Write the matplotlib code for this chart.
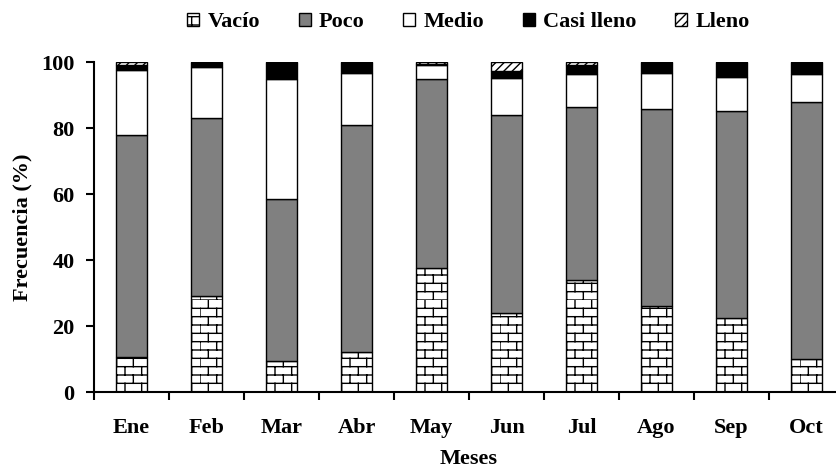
import warnings
import numpy as np
import matplotlib
matplotlib.use("Agg")
import matplotlib.pyplot as plt
import matplotlib.hatch as mhatch
from matplotlib.path import Path

months = ["Ene", "Feb", "Mar", "Abr", "May", "Jun", "Jul", "Ago", "Sep", "Oct"]
vacio = [10.5, 29.0, 9.3, 12.0, 37.5, 24.0, 34.0, 26.0, 22.4, 10.0]
poco = [67.5, 54.0, 49.2, 69.0, 57.5, 60.0, 52.3, 59.8, 62.8, 78.0]
medio = [19.5, 15.5, 36.5, 15.7, 4.0, 11.3, 10.0, 10.9, 10.2, 8.4]
casi_lleno = [1.5, 1.5, 5.0, 3.3, 0.5, 2.1, 2.7, 3.3, 4.6, 3.6]
lleno = [1.0, 0.0, 0.0, 0.0, 0.5, 2.6, 1.0, 0.0, 0.0, 0.0]

series_names = ["Vac\u00edo", "Poco", "Medio", "Casi lleno", "Lleno"]
yticks = [0, 20, 40, 60, 80, 100]


class BrickHatch(mhatch.HatchPatternBase):
    """Brick wall pattern, selected with the 'b' character."""

    def __init__(self, hatch, density):
        self.n = hatch.count("b")
        self.rows = 12 * self.n
        self.cols = 6 * self.n
        # one horizontal line per row + cols vertical segments per row
        self.num_vertices = (self.rows + self.rows * self.cols) * 2 if self.n else 0

    def set_vertices_and_codes(self, vertices, codes):
        segs = []
        h = 1.0 / self.rows
        w = 1.0 / self.cols
        for i in range(self.rows):
            y0 = i * h
            segs.append(((0.0, y0), (1.0, y0)))
            off = 0.5 * w if i % 2 else 0.0
            for j in range(self.cols):
                xv = j * w + off
                segs.append(((xv, y0), (xv, y0 + h)))
        vertices[:] = np.array([p for s in segs for p in s])
        codes[0::2] = Path.MOVETO
        codes[1::2] = Path.LINETO


mhatch._hatch_types.append(BrickHatch)
warnings.filterwarnings("ignore")

plt.rcParams["font.family"] = "Liberation Serif"
plt.rcParams["font.weight"] = "bold"
plt.rcParams["hatch.linewidth"] = 1.0
FS = 16

fig = plt.figure(figsize=(8.37, 4.71), dpi=100)
# the category axis runs a little past the right edge of the figure
ax = fig.add_axes([94 / 837, 79 / 471, 750 / 837, 330 / 471])

x = np.arange(len(months))
width = 0.41
styles = [
    dict(color="white", hatch="b"),
    dict(color="#808080", hatch=None),
    dict(color="white", hatch=None),
    dict(color="black", hatch=None),
    dict(color="white", hatch="////"),
]
bottom = np.zeros(len(months))
for name, vals, st in zip(series_names, [vacio, poco, medio, casi_lleno, lleno], styles):
    vals = np.array(vals)
    ax.bar(x, vals, width, bottom=bottom, color=st["color"], hatch=st["hatch"],
           edgecolor="black", linewidth=1.0, label=name)
    bottom += vals

ax.set_xlim(-0.5, len(months) - 0.5)
ax.set_ylim(0, 100)
ax.set_yticks(yticks)
ax.set_xticks(x)
ax.set_xticklabels(months, fontsize=FS, fontweight="bold")
ax.set_xticks(np.arange(-0.5, len(months), 1.0), minor=True)
ax.tick_params(axis="x", which="major", length=0, pad=19)
ax.tick_params(axis="x", which="minor", length=6, width=1.5, direction="out")
ax.tick_params(axis="y", length=6, width=1.5, labelsize=FS, pad=8)
for lab in ax.get_yticklabels():
    lab.set_fontweight("bold")

for side in ["top", "right"]:
    ax.spines[side].set_visible(False)
for side in ["left", "bottom"]:
    ax.spines[side].set_linewidth(1.5)

ax.set_xlabel("Meses", fontsize=FS, fontweight="bold", labelpad=8)
ax.set_ylabel("Frecuencia (%)", fontsize=FS, fontweight="bold", labelpad=6)

fig.legend(loc="center", bbox_to_anchor=(468.5 / 837, 1 - 22 / 471), ncol=5, frameon=False,
           handlelength=0.54, handleheight=0.54, handletextpad=0.36, columnspacing=1.75,
           borderpad=0, prop={"family": "Liberation Serif", "size": FS, "weight": "bold"})

fig.savefig("out.png", dpi=100)
